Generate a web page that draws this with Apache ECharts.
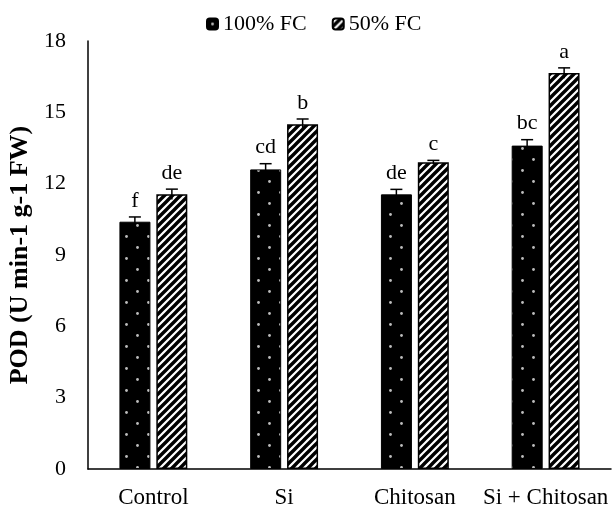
<!DOCTYPE html>
<html>
<head>
<meta charset="utf-8">
<script src="https://cdn.jsdelivr.net/npm/echarts@6/dist/echarts.min.js"></script>
<style>html,body{margin:0;padding:0;background:#fff}#c{width:613px;height:506px}</style>
</head>
<body>
<div id="c"></div>
<script>
var categories = ['Control', 'Si', 'Chitosan', 'Si + Chitosan'];
var seriesNames = ['100% FC', '50% FC'];
var fc100 = [10.4, 12.6, 11.55, 13.6];
var fc50 = [11.55, 14.5, 12.9, 16.65];
var err100 = [0.2, 0.24, 0.21, 0.25];
var err50 = [0.22, 0.22, 0.08, 0.22];
var letters100 = ['f', 'cd', 'de', 'bc'];
var letters50 = ['de', 'b', 'c', 'a'];
var yTicks = [0, 3, 6, 9, 12, 15, 18];

function dotPattern() {
  var c = document.createElement('canvas');
  c.width = 22; c.height = 22;
  var g = c.getContext('2d');
  g.fillStyle = '#000'; g.fillRect(0, 0, 22, 22);
  g.fillStyle = '#bdbdbd';
  g.beginPath(); g.arc(5.5, 5.5, 1.4, 0, Math.PI * 2); g.fill();
  g.beginPath(); g.arc(16.5, 16.5, 1.4, 0, Math.PI * 2); g.fill();
  return c;
}
function hatchPattern() {
  var s = 8;
  var c = document.createElement('canvas');
  c.width = s; c.height = s;
  var g = c.getContext('2d');
  g.fillStyle = '#fff'; g.fillRect(0, 0, s, s);
  g.strokeStyle = '#000'; g.lineWidth = 3.4;
  g.beginPath();
  g.moveTo(-s, s); g.lineTo(s, -s);
  g.moveTo(0, 2 * s); g.lineTo(2 * s, 0);
  g.moveTo(0, s); g.lineTo(s, 0);
  g.stroke();
  return c;
}
var pat1 = { image: dotPattern(), repeat: 'repeat' };
var pat2 = { image: hatchPattern(), repeat: 'repeat' };

var BW = 31, OFF = 18.5;
var font = 'Liberation Serif';

function errSeries(vals, errs, letters, sign) {
  return {
    type: 'custom',
    z: 5,
    silent: true,
    data: vals.map(function (v, i) { return [i, v, errs[i]]; }),
    renderItem: function (params, api) {
      var i = api.value(0), v = api.value(1), e = api.value(2);
      var lt = params.dataIndex;
      var top = api.coord([i, v + e]);
      var bot = api.coord([i, v - e]);
      var x = top[0] + sign * OFF;
      var cw = 6;
      return {
        type: 'group',
        children: [
          { type: 'line', shape: { x1: x, y1: top[1], x2: x, y2: bot[1] }, style: { stroke: '#000', lineWidth: 1.5 } },
          { type: 'line', shape: { x1: x - cw, y1: top[1], x2: x + cw, y2: top[1] }, style: { stroke: '#000', lineWidth: 1.5 } },
          { type: 'text', x: x, y: top[1] - 5, style: { text: letters[lt], fill: '#000', font: '22px "' + font + '"', textAlign: 'center', textVerticalAlign: 'bottom' } }
        ]
      };
    }
  };
}

var chart = echarts.init(document.getElementById('c'), null, { renderer: 'canvas' });
chart.setOption({
  animation: false,
  textStyle: { fontFamily: font, color: '#000' },
  legend: {
    data: seriesNames,
    top: 8,
    left: 201,
    itemWidth: 11,
    itemHeight: 11,
    itemGap: 25,
    textStyle: { fontFamily: font, fontSize: 22, color: '#000' }
  },
  grid: { left: 88, right: 2, top: 41, bottom: 37, containLabel: false, outerBoundsMode: 'none' },
  xAxis: {
    type: 'category',
    data: categories,
    axisLine: { lineStyle: { color: '#000', width: 1.5 } },
    axisTick: { show: false },
    axisLabel: { fontFamily: font, fontSize: 23, color: '#000', margin: 17, interval: 0 }
  },
  yAxis: {
    type: 'value',
    min: 0, max: 18, interval: 3,
    name: 'POD (U min-1 g-1 FW)',
    nameLocation: 'middle',
    nameGap: 47,
    nameTextStyle: { fontFamily: font, fontSize: 26, fontWeight: 'bold', color: '#000' },
    axisLine: { show: true, lineStyle: { color: '#000', width: 1.5 } },
    axisTick: { show: false },
    splitLine: { show: false },
    axisLabel: { fontFamily: font, fontSize: 22, color: '#000', margin: 22,
      formatter: function (v) { return yTicks.indexOf(v) >= 0 ? String(v) : ''; } }
  },
  series: [
    { name: seriesNames[0], type: 'bar', data: fc100, barWidth: BW, barGap: '19%',
      itemStyle: { color: pat1, borderColor: '#000', borderWidth: 1 } },
    { name: seriesNames[1], type: 'bar', data: fc50, barWidth: BW,
      itemStyle: { color: pat2, borderColor: '#000', borderWidth: 1.5 } },
    errSeries(fc100, err100, letters100, -1),
    errSeries(fc50, err50, letters50, 1)
  ]
});
</script>
</body>
</html>
